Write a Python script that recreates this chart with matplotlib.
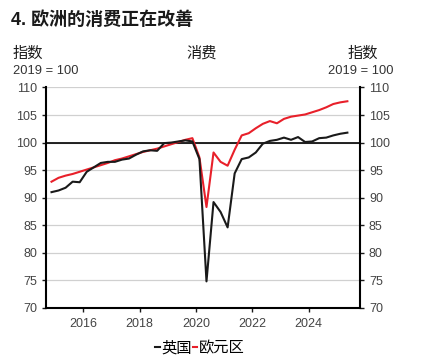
import numpy as np
import matplotlib
matplotlib.use('Agg')
import matplotlib.pyplot as plt

plt.rcParams['font.family'] = ['Liberation Sans', 'Noto Sans CJK SC', 'DejaVu Sans']

# 季度数据: 2014Q4 - 2025Q2
start_year = 2014
start_q = 4
uk = [91.0, 91.3, 91.8, 92.9, 92.8, 94.7, 95.5, 96.3, 96.5,
      96.5, 96.9, 97.1, 97.8, 98.4, 98.6, 98.5, 99.9,
      100.0, 100.2, 100.4, 100.2, 97.0, 74.8, 89.2, 87.4,
      84.6, 94.4, 97.0, 97.3, 98.2, 99.8, 100.3, 100.5,
      100.9, 100.5, 101.0, 100.1, 100.2, 100.8, 100.9, 101.3,
      101.6, 101.8]
ez = [92.9, 93.6, 94.0, 94.3, 94.7, 95.1, 95.5, 95.9, 96.3,
      96.8, 97.1, 97.5, 97.9, 98.3, 98.6, 98.9, 99.3,
      99.7, 100.1, 100.5, 100.8, 97.3, 88.3, 98.2, 96.5,
      95.8, 98.7, 101.3, 101.7, 102.6, 103.4, 103.9, 103.5,
      104.3, 104.7, 104.9, 105.1, 105.5, 105.9, 106.4, 107.0,
      107.3, 107.5]
labels = ['英国', '欧元区']
xticks = [2016, 2018, 2020, 2022, 2024]
yticks = [70, 75, 80, 85, 90, 95, 100, 105, 110]

n = len(uk)
x = start_year + (start_q - 1) / 4 + 0.125 + np.arange(n) / 4

fig = plt.figure(figsize=(4.3, 3.63), dpi=100)
ax = fig.add_axes([0.107, 0.152, 0.73, 0.607])

for y in yticks:
    ax.axhline(y, color='#d0d0d0', lw=0.9, zorder=0)
ax.axhline(100, color='black', lw=1.2, zorder=1)

ax.plot(x, uk, color='#1a1a1a', lw=1.5, label=labels[0], zorder=3)
ax.plot(x, ez, color='#e8202a', lw=1.5, label=labels[1], zorder=2)

ax.set_xlim(2014.68, 2025.82)
ax.set_ylim(70, 110)
ax.set_xticks(xticks)
ax.set_yticks(yticks)

ax.spines['top'].set_visible(False)
for s in ['left', 'right', 'bottom']:
    ax.spines[s].set_linewidth(1.5)
ax.tick_params(axis='both', labelsize=9, colors='#1a1a1a', labelcolor='#444444',
               length=3, width=1)
ax.tick_params(axis='y', right=True, labelright=True)
ax.tick_params(axis='x', pad=4)

fig.text(0.026, 0.93, '4. 欧洲的消费正在改善', fontsize=13, fontweight='bold', color='#1a1a1a')
fig.text(0.028, 0.84, '指数', fontsize=11, color='#1a1a1a')
fig.text(0.03, 0.795, '2019 = 100', fontsize=9.3, color='#333333')
fig.text(0.47, 0.84, '消费', fontsize=11, color='#1a1a1a', ha='center')
fig.text(0.88, 0.84, '指数', fontsize=11, color='#1a1a1a', ha='right')
fig.text(0.914, 0.795, '2019 = 100', fontsize=9.3, color='#333333', ha='right')

fig.legend(loc='center', bbox_to_anchor=(0.465, 0.04), ncol=2, frameon=False,
           fontsize=11, handlelength=0.3, handletextpad=0.1, columnspacing=0.05)

fig.savefig('out.png', dpi=100)
